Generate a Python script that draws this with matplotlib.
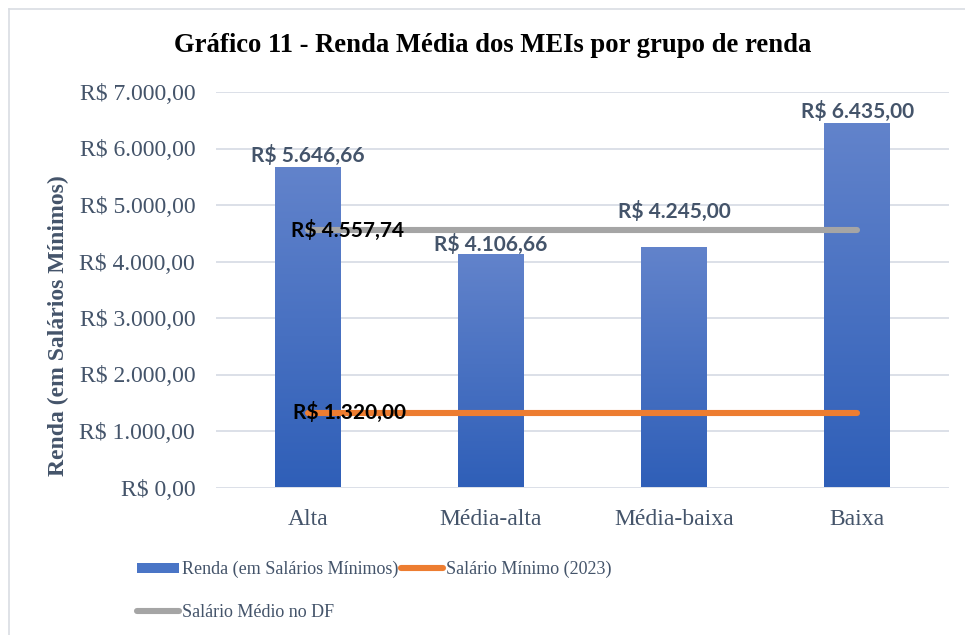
import matplotlib
matplotlib.use("Agg")
import matplotlib.pyplot as plt
import numpy as np
from matplotlib.ticker import FuncFormatter, MultipleLocator
from matplotlib.colors import LinearSegmentedColormap
from matplotlib.patches import Patch
from matplotlib.lines import Line2D
from matplotlib.font_manager import FontProperties

categories = ["Alta", "Média-alta", "Média-baixa", "Baixa"]
renda = [5646.66, 4106.66, 4245.00, 6435.00]
salario_minimo = [1320.00, 1320.00, 1320.00, 1320.00]
salario_medio_df = [4557.74, 4557.74, 4557.74, 4557.74]

title = "Gráfico 11 - Renda Média dos MEIs por grupo de renda"
ylabel = "Renda (em Salários Mínimos)"
legend_labels = ["Renda (em Salários Mínimos)", "Salário Mínimo (2023)", "Salário Médio no DF"]

TXT = "#44546A"
SERIF = "Liberation Serif"
LBLFONT = "Lato"


def brl(v, pos=None):
    s = f"{v:,.2f}"
    s = s.replace(",", "X").replace(".", ",").replace("X", ".")
    return "R$ " + s


W, H = 965, 635
fig = plt.figure(figsize=(W / 100, H / 100), dpi=100)
fig.patch.set_facecolor("white")

# outer chart border (left and top visible)
fig.add_artist(Line2D([9 / W, 9 / W], [0, 1 - 9 / H], color="#D9DDE3", lw=1.2, transform=fig.transFigure))
fig.add_artist(Line2D([9 / W, 1], [1 - 9 / H, 1 - 9 / H], color="#D9DDE3", lw=1.2, transform=fig.transFigure))

left, right = 216 / W, 949 / W
bottom, top = 1 - 487.5 / H, 1 - 92 / H
ax = fig.add_axes([left, bottom, right - left, top - bottom])

x = np.arange(len(categories))
bars = ax.bar(x, renda, width=0.36, color="none", zorder=2)

cmap = LinearSegmentedColormap.from_list("g", ["#2F5FB8", "#6283CB"])
grad = np.linspace(0, 1, 256).reshape(-1, 1)
for b in bars:
    x0 = b.get_x()
    ax.imshow(grad, extent=[x0, x0 + b.get_width(), 0, b.get_height()], origin="lower",
              aspect="auto", cmap=cmap, zorder=2)

ax.plot(x, salario_medio_df, color="#A5A5A5", lw=4.4, solid_capstyle="round", zorder=3)
ax.plot(x, salario_minimo, color="#ED7D31", lw=4.4, solid_capstyle="round", zorder=3)

ax.set_xlim(-0.5, len(categories) - 0.5)
ax.set_ylim(0, 7000)
ax.yaxis.set_major_locator(MultipleLocator(1000))
ax.yaxis.set_major_formatter(FuncFormatter(brl))
ax.grid(axis="y", color="#DCE0E8", lw=1.4, zorder=0)
ax.set_axisbelow(True)
for s in ax.spines.values():
    s.set_visible(False)
ax.tick_params(axis="both", length=0, labelsize=17, labelcolor=TXT)
ax.tick_params(axis="y", pad=15)
ax.tick_params(axis="x", pad=15.5)
ax.set_xticks(x)
ax.set_xticklabels(categories)
for t in ax.get_xticklabels() + ax.get_yticklabels():
    t.set_fontfamily(SERIF)

# bar data labels
offsets = [13, 11, 36, 12]
for xi, v, off in zip(x, renda, offsets):
    ax.annotate(brl(v), (xi, v), xytext=(0, off), textcoords="offset pixels",
                ha="center", va="center", fontsize=15, fontweight="bold",
                color=TXT, family=LBLFONT, zorder=5)

# line labels
ax.annotate(brl(salario_medio_df[0]), (x[0], salario_medio_df[0]), xytext=(-17, 0),
            textcoords="offset pixels", ha="left", va="center", fontsize=15,
            fontweight="bold", color="black", family=LBLFONT, zorder=5)
ax.annotate(brl(salario_minimo[0]), (x[0], salario_minimo[0]), xytext=(-15, 0),
            textcoords="offset pixels", ha="left", va="center", fontsize=15,
            fontweight="bold", color="black", family=LBLFONT, zorder=5)

fig.text(0.5 * (174 + 812) / W, 1 - 46 / H, title, ha="center", va="center",
         fontsize=19.2, fontweight="bold", family=SERIF, color="black")
fig.text(58 / W, 1 - 326 / H, ylabel, rotation=90, ha="center", va="center",
         fontsize=17, fontweight="bold", family=SERIF, color=TXT)

h_bar = Patch(facecolor="#4A75C6", edgecolor="none")
h_min = Line2D([], [], color="#ED7D31", lw=4.4, solid_capstyle="round")
h_med = Line2D([], [], color="#A5A5A5", lw=4.4, solid_capstyle="round")
leg = fig.legend([h_bar, h_med, h_min], [legend_labels[0], legend_labels[2], legend_labels[1]],
                 ncol=2, loc="upper left", bbox_to_anchor=(137 / W, 1 - 561 / H),
                 frameon=False, prop=FontProperties(family=SERIF, size=13),
                 handlelength=2.3, handletextpad=0.2, columnspacing=0.15,
                 labelspacing=1.42, borderpad=0, borderaxespad=0, handleheight=0.5)
for t in leg.get_texts():
    t.set_color(TXT)
    t.set_fontfamily(SERIF)

fig.savefig("out.png", dpi=100, facecolor="white")
